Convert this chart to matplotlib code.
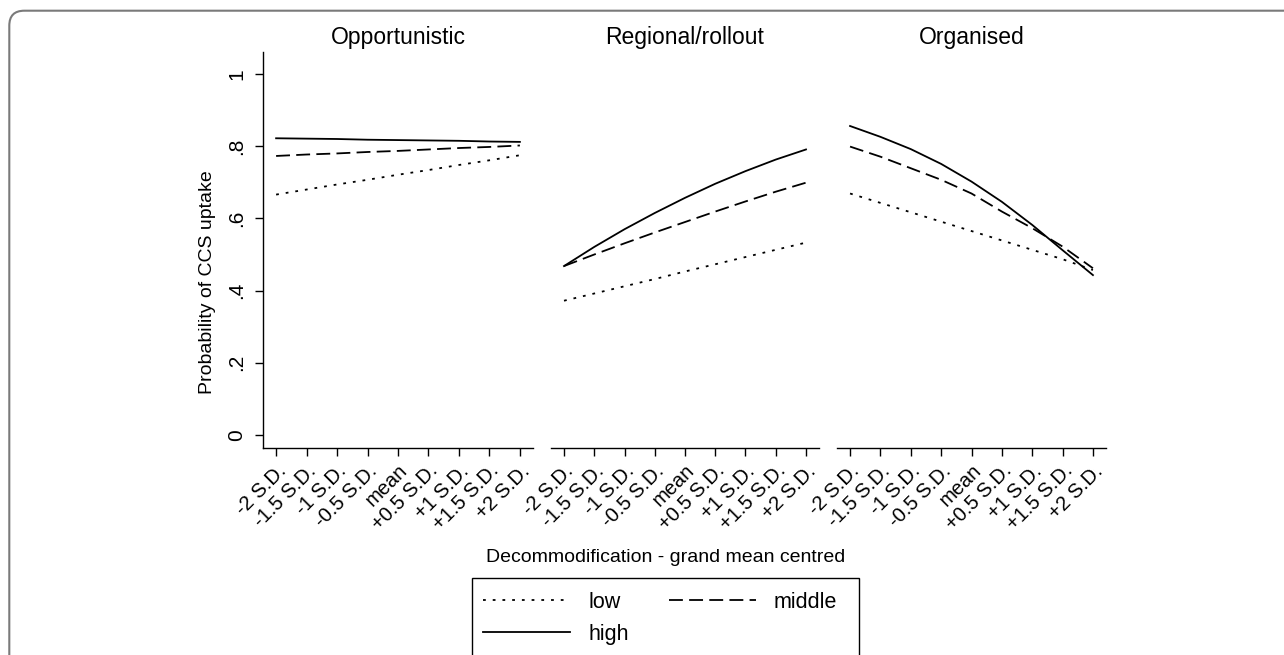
import matplotlib
matplotlib.use("Agg")
import matplotlib.pyplot as plt
from matplotlib.lines import Line2D
from matplotlib.patches import FancyBboxPatch, Rectangle

plt.rcParams['font.family'] = ['Liberation Sans', 'DejaVu Sans']
plt.rcParams['lines.scale_dashes'] = False

# ---- data ----
tick_labels = ["-2 S.D.", "-1.5 S.D.", "-1 S.D.", "-0.5 S.D.", "mean",
               "+0.5 S.D.", "+1 S.D.", "+1.5 S.D.", "+2 S.D."]
panels = ["Opportunistic", "Regional/rollout", "Organised"]

opp_low = [0.666, 0.680, 0.694, 0.707, 0.721, 0.734, 0.748, 0.761, 0.775]
opp_middle = [0.773, 0.777, 0.780, 0.784, 0.787, 0.791, 0.795, 0.798, 0.802]
opp_high = [0.822, 0.821, 0.820, 0.818, 0.817, 0.816, 0.815, 0.813, 0.812]

reg_low = [0.372, 0.392, 0.412, 0.432, 0.453, 0.473, 0.493, 0.513, 0.533]
reg_middle = [0.468, 0.500, 0.531, 0.561, 0.590, 0.619, 0.647, 0.674, 0.699]
reg_high = [0.468, 0.521, 0.570, 0.615, 0.657, 0.696, 0.731, 0.763, 0.791]

org_low = [0.669, 0.643, 0.617, 0.591, 0.565, 0.539, 0.513, 0.487, 0.457]
org_middle = [0.799, 0.771, 0.739, 0.707, 0.669, 0.619, 0.573, 0.522, 0.462]
org_high = [0.856, 0.826, 0.792, 0.751, 0.702, 0.646, 0.582, 0.512, 0.443]

series_names = ["low", "middle", "high"]
panel_data = [
    [opp_low, opp_middle, opp_high],
    [reg_low, reg_middle, reg_high],
    [org_low, org_middle, org_high],
]

y_ticks = [0, 0.2, 0.4, 0.6, 0.8, 1.0]
y_tick_labels = ["0", ".2", ".4", ".6", ".8", "1"]

# ---- styles ----
styles = {
    "low": dict(linestyle=(0, (2.0, 5.0))),
    "middle": dict(linestyle=(0, (10.0, 4.5))),
    "high": dict(linestyle="-"),
}
LW = 1.3

W, H = 1284, 655
fig = plt.figure(figsize=(W / 100, H / 100), dpi=100)

# outer rounded frame
frame = FancyBboxPatch((0.093, -0.5), 13.5, 6.443 + 0.5,
                       boxstyle="round,pad=0,rounding_size=0.15",
                       transform=fig.dpi_scale_trans, fill=False,
                       edgecolor="#7a7a7a", linewidth=1.5)
fig.patches.append(frame)

axes_px = [(263, 533), (551, 819), (837, 1106)]
top_px, bot_px = 52, 448
x = list(range(len(tick_labels)))

for i, ((l, r), title, data) in enumerate(zip(axes_px, panels, panel_data)):
    ax = fig.add_axes([l / W, 1 - bot_px / H, (r - l) / W, (bot_px - top_px) / H])
    for name, vals in zip(series_names, data):
        ax.plot(x, vals, color="black", linewidth=LW, **styles[name])
    ax.set_xlim(-0.43, 8.43)
    ax.set_ylim(-0.036, 1.061)
    ax.set_xticks(x)
    ax.set_xticklabels(tick_labels, rotation=45, ha="right", va="top",
                       rotation_mode="anchor", fontsize=14.5)
    ax.tick_params(axis="x", length=5.5, width=1.0, pad=4)
    ax.spines["top"].set_visible(False)
    ax.spines["right"].set_visible(False)
    ax.spines["bottom"].set_linewidth(1.0)
    ax.set_title(title, fontsize=16.5, pad=6)
    if i == 0:
        ax.set_yticks(y_ticks)
        ax.set_yticklabels(y_tick_labels, rotation=90, va="center", fontsize=15)
        ax.tick_params(axis="y", length=6, width=1.0, pad=6)
        ax.spines["left"].set_linewidth(1.0)
    else:
        ax.spines["left"].set_visible(False)
        ax.set_yticks([])
    ax.patch.set_visible(False)

fig.text(208 / W, 1 - 282 / H, "Probability of CCS uptake", rotation=90,
         ha="center", va="center", fontsize=14)
fig.text(666 / W, 1 - 558 / H, "Decommodification - grand mean centred",
         ha="center", va="center", fontsize=14)

# legend box
box = Rectangle((472 / W, -0.05), (859 - 472) / W, (1 - 578 / H) + 0.05,
                transform=fig.transFigure, fill=False, edgecolor="black",
                linewidth=1.0)
fig.patches.append(box)

handles = [Line2D([], [], color="black", linewidth=LW, **styles[n]) for n in series_names]
order = [0, 2, 1]
leg = fig.legend([handles[k] for k in order], [series_names[k] for k in order],
                 ncol=2, loc="upper left",
                 bbox_to_anchor=(483 / W, 1 - 592 / H),
                 frameon=False, fontsize=15.5, handlelength=4.04,
                 handletextpad=0.84, columnspacing=1.87, labelspacing=0.51,
                 borderpad=0.0, borderaxespad=0.0)

fig.savefig("out.png", dpi=100)
